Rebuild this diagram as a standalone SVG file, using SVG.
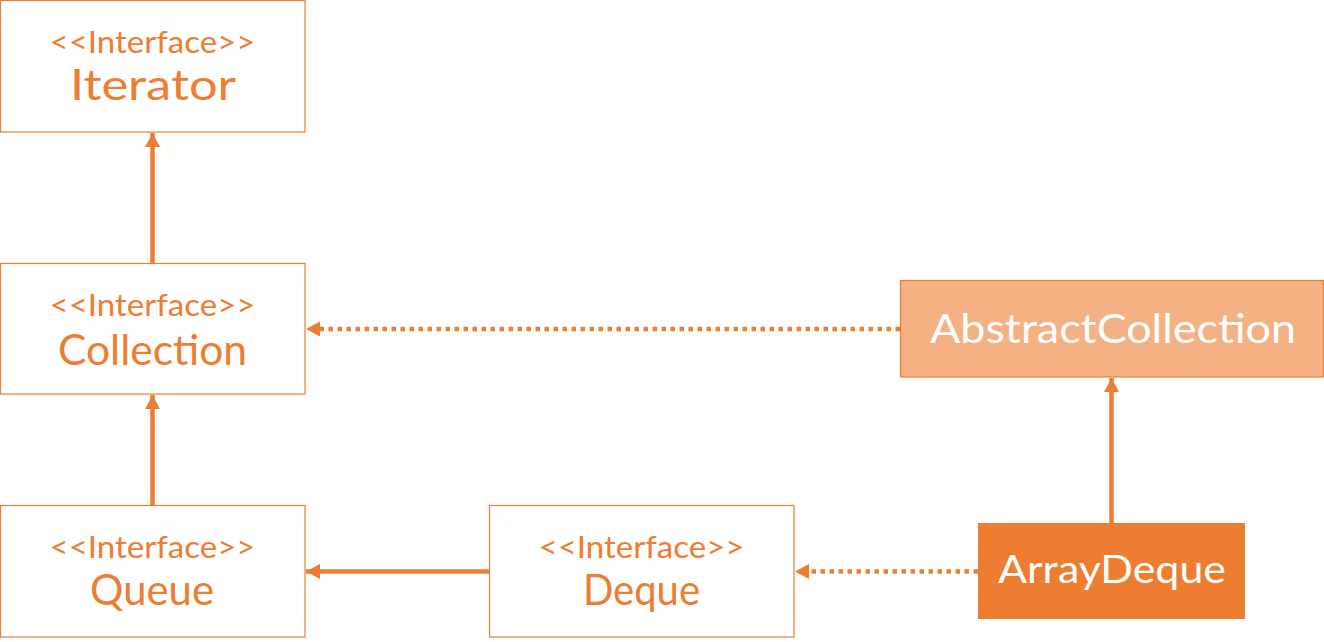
<svg xmlns="http://www.w3.org/2000/svg" width="1324" height="642" viewBox="0 0 1324 642">
<defs>
<style>
.box{fill:#FFFFFF;stroke:#ED7D31;stroke-width:1.2}
.abs{fill:#F4B183;stroke:#ED7D31;stroke-width:1.2}
.cls{fill:#ED7D31;stroke:none}
.st{font-family:Lato,"Open Sans",sans-serif;font-size:30px;fill:#ED7D31;text-anchor:middle}
.nm{font-family:Lato,"Open Sans",sans-serif;font-size:42px;fill:#ED7D31;text-anchor:middle}
.wt{font-family:Lato,"Open Sans",sans-serif;fill:#FFFFFF;text-anchor:middle}
.ln{stroke:#ED7D31;stroke-width:4.5;fill:none}
.dt{stroke:#ED7D31;stroke-width:4.5;fill:none;stroke-dasharray:4.5 4.5}
</style>
<marker id="ah" markerUnits="userSpaceOnUse" markerWidth="16" markerHeight="16" refX="14" refY="7.5" orient="auto">
<path d="M0,0 L14,7.5 L0,15 Z" fill="#ED7D31"/>
</marker>
</defs>
<g id="connectors">
<line class="ln" x1="152.5" y1="263" x2="152.5" y2="133" marker-end="url(#ah)"/>
<line class="ln" x1="152.5" y1="505" x2="152.5" y2="395" marker-end="url(#ah)"/>
<line class="ln" x1="489" y1="571.5" x2="306" y2="571.5" marker-end="url(#ah)"/>
<line class="ln" x1="1111.5" y1="523" x2="1111.5" y2="378" marker-end="url(#ah)"/>
<line class="dt" x1="900" y1="329" x2="320" y2="329"/>
<path d="M320,321.5 L306,329 L320,336.5 Z" fill="#ED7D31"/>
<line class="dt" x1="978" y1="571.5" x2="809" y2="571.5"/>
<path d="M809,564 L795,571.5 L809,579 Z" fill="#ED7D31"/>
</g>
<g id="iterator">
<rect class="box" x="0.5" y="0.5" width="304.5" height="131.5"/>
<text class="st" x="152.5" y="53" textLength="206" lengthAdjust="spacingAndGlyphs">&lt;&lt;Interface&gt;&gt;</text>
<text class="nm" x="153" y="100" textLength="166" lengthAdjust="spacingAndGlyphs">Iterator</text>
</g>
<g id="collection">
<rect class="box" x="0.5" y="263.5" width="304.5" height="130.5"/>
<text class="st" x="152.5" y="316" textLength="206" lengthAdjust="spacingAndGlyphs">&lt;&lt;Interface&gt;&gt;</text>
<text class="nm" x="152.5" y="365" textLength="189" lengthAdjust="spacingAndGlyphs">Collection</text>
</g>
<g id="queue">
<rect class="box" x="0.5" y="505.5" width="304.5" height="131.5"/>
<text class="st" x="152.5" y="558" textLength="206" lengthAdjust="spacingAndGlyphs">&lt;&lt;Interface&gt;&gt;</text>
<text class="nm" x="152" y="605" textLength="124" lengthAdjust="spacingAndGlyphs">Queue</text>
</g>
<g id="deque">
<rect class="box" x="489.5" y="505.5" width="304.5" height="131.5"/>
<text class="st" x="641.5" y="558" textLength="206" lengthAdjust="spacingAndGlyphs">&lt;&lt;Interface&gt;&gt;</text>
<text class="nm" x="641.5" y="605" textLength="117" lengthAdjust="spacingAndGlyphs">Deque</text>
</g>
<g id="abstractcollection">
<rect class="abs" x="900.5" y="280.5" width="423" height="96.5"/>
<text class="wt" x="1113" y="343" font-size="40" textLength="366" lengthAdjust="spacingAndGlyphs">AbstractCollection</text>
</g>
<g id="arraydeque">
<rect class="cls" x="978" y="523" width="267" height="96"/>
<text class="wt" x="1112" y="583" font-size="38" textLength="228" lengthAdjust="spacingAndGlyphs">ArrayDeque</text>
</g>
</svg>
